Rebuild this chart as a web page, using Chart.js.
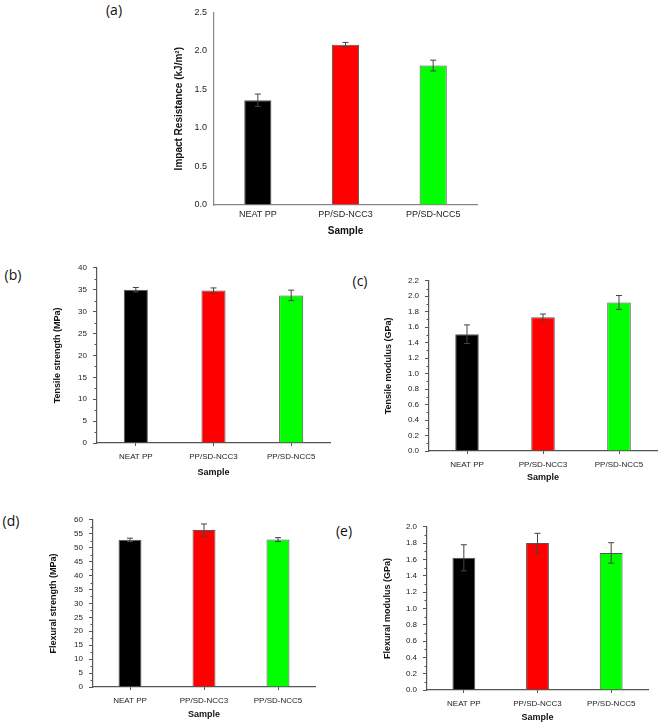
<!DOCTYPE html>
<html lang="en">
<head>
<meta charset="UTF-8">
<title>Mechanical properties</title>
<script src="https://cdn.jsdelivr.net/npm/chart.js@4.4.1/dist/chart.umd.min.js"></script>
<style>
  body{ margin:0; background:#fff; width:661px; height:724px; position:relative; overflow:hidden; }
  canvas{ position:absolute; }
  .lbl{ position:absolute; font-family:'Open Sans', sans-serif; font-size:14px; color:#111; line-height:1; transform:translate(-50%,-50%); }
</style>
</head>
<body>
<div class="lbl" style="left:114px; top:10px;">(a)</div>
<div class="lbl" style="left:13px; top:275px;">(b)</div>
<div class="lbl" style="left:360px; top:281px;">(c)</div>
<div class="lbl" style="left:11px; top:521px;">(d)</div>
<div class="lbl" style="left:344px; top:531px;">(e)</div>

<canvas id="chA"></canvas>
<canvas id="chB"></canvas>
<canvas id="chC"></canvas>
<canvas id="chD"></canvas>
<canvas id="chE"></canvas>

<script>
// data
const samples = ["NEAT PP", "PP/SD-NCC3", "PP/SD-NCC5"];
const barColors = ["#000000", "#ff0000", "#00ff00"];

const impact = [1.36, 2.08, 1.81];
const impactErr = [0.08, 0.03, 0.07];

const tensileStrength = [35.0, 34.8, 33.7];
const tensileStrengthErr = [0.5, 0.6, 1.2];

const tensileModulus = [1.51, 1.73, 1.92];
const tensileModulusErr = [0.12, 0.04, 0.09];

const flexStrength = [52.8, 56.3, 52.9];
const flexStrengthErr = [0.6, 2.2, 0.7];

const flexModulus = [1.62, 1.80, 1.68];
const flexModulusErr = [0.16, 0.12, 0.125];

Chart.defaults.font.family = "'Liberation Sans', Arial, sans-serif";
Chart.defaults.color = "#222";

// error bars drawn through the y scale
const errorBars = {
  id: 'errorBars',
  afterDatasetsDraw(chart) {
    const ctx = chart.ctx;
    const y = chart.scales.y;
    chart.data.datasets.forEach((ds, di) => {
      const meta = chart.getDatasetMeta(di);
      meta.data.forEach((bar, i) => {
        const v = ds.data[i], e = ds.errors[i];
        const top = y.getPixelForValue(v + e);
        const bot = y.getPixelForValue(v - e);
        ctx.save();
        ctx.strokeStyle = '#444';
        ctx.lineWidth = 1;
        ctx.beginPath();
        ctx.moveTo(bar.x, top); ctx.lineTo(bar.x, bot);
        ctx.moveTo(bar.x - 3, top); ctx.lineTo(bar.x + 3, top);
        ctx.moveTo(bar.x - 3, bot); ctx.lineTo(bar.x + 3, bot);
        ctx.stroke();
        ctx.restore();
      });
    });
  }
};

// small ticks halfway between the major y ticks
const minorTicks = {
  id: 'minorTicks',
  afterDraw(chart, args, opts) {
    if (!opts.show) return;
    const y = chart.scales.y;
    const ctx = chart.ctx;
    const step = y.options.ticks.stepSize;
    ctx.save();
    ctx.strokeStyle = opts.color;
    ctx.lineWidth = 1;
    ctx.beginPath();
    for (let v = step / 2; v < y.max; v += step) {
      const py = Math.round(y.getPixelForValue(v)) + 0.5;
      ctx.moveTo(y.right, py); ctx.lineTo(y.right - 2.5, py);
    }
    ctx.stroke();
    ctx.restore();
  }
};

function makePanel(id, p) {
  const lh = p.titleSize * 1.2;
  const left = Math.round(p.yTitleX - lh / 2);
  const padTop = Math.min(8, p.T);
  const padRight = 4;
  const yW = p.L - left;
  const xH = Math.round(p.xTitleY - p.B + lh / 2);
  const cv = document.getElementById(id);
  cv.width = yW + (p.R - p.L) + padRight;
  cv.height = padTop + (p.B - p.T) + xH;
  cv.style.left = left + 'px';
  cv.style.top = (p.T - padTop) + 'px';

  new Chart(cv, {
    type: 'bar',
    data: {
      labels: samples,
      datasets: [{
        data: p.values,
        errors: p.errors,
        backgroundColor: barColors,
        borderColor: '#555',
        borderWidth: 1,
        barPercentage: 0.31,
        categoryPercentage: 1
      }]
    },
    options: {
      responsive: false,
      animation: false,
      layout: { padding: { top: padTop, right: padRight, left: 0, bottom: 0 } },
      plugins: {
        legend: { display: false },
        tooltip: { enabled: false },
        minorTicks: { show: p.ticks, color: p.axisColor }
      },
      scales: {
        x: {
          afterFit(s) { s.height = xH; },
          border: { display: true, color: p.axisColor, width: 1.2 },
          grid: { drawOnChartArea: false, drawTicks: p.ticks, tickLength: 3, offset: false, color: p.axisColor },
          ticks: { padding: p.ticks ? 6 : 4, font: { size: p.tickSize }, color: '#222', maxRotation: 0 },
          title: { display: true, text: 'Sample', font: { size: p.titleSize, weight: 'bold' }, color: '#111', padding: 0 }
        },
        y: {
          min: 0, max: p.max,
          afterFit(s) { s.width = yW; },
          border: { display: true, color: p.axisColor, width: 1.2 },
          grid: { drawOnChartArea: false, drawTicks: p.ticks, tickLength: 4, color: p.axisColor },
          ticks: {
            stepSize: p.step, padding: p.ticks ? 6 : 7,
            font: { size: p.tickSize }, color: '#222',
            callback: v => v.toFixed(p.dec)
          },
          title: { display: true, text: p.yTitle, font: { size: p.titleSize, weight: 'bold' }, color: '#111', padding: 0 }
        }
      }
    },
    plugins: [errorBars, minorTicks]
  });
}

makePanel('chA', { L: 214, R: 477, T: 7, B: 205, yTitleX: 179, xTitleY: 231,
  max: 2.5, step: 0.5, dec: 1, tickSize: 9, titleSize: 10, ticks: false, axisColor: '#888',
  yTitle: 'Impact Resistance (kJ/m²)', values: impact, errors: impactErr });

makePanel('chB', { L: 97, R: 330, T: 265, B: 443, yTitleX: 57, xTitleY: 473,
  max: 40, step: 5, dec: 0, tickSize: 8, titleSize: 9, ticks: true, axisColor: '#555',
  yTitle: 'Tensile strength (MPa)', values: tensileStrength, errors: tensileStrengthErr });

makePanel('chC', { L: 429, R: 657, T: 278, B: 451, yTitleX: 388, xTitleY: 478,
  max: 2.2, step: 0.2, dec: 1, tickSize: 8, titleSize: 9, ticks: true, axisColor: '#555',
  yTitle: 'Tensile modulus (GPa)', values: tensileModulus, errors: tensileModulusErr });

makePanel('chD', { L: 93, R: 315, T: 517, B: 687, yTitleX: 53, xTitleY: 715,
  max: 60, step: 5, dec: 0, tickSize: 8, titleSize: 9, ticks: true, axisColor: '#555',
  yTitle: 'Flexural strength (MPa)', values: flexStrength, errors: flexStrengthErr });

makePanel('chE', { L: 427, R: 648, T: 524, B: 690, yTitleX: 387, xTitleY: 718,
  max: 2.0, step: 0.2, dec: 1, tickSize: 8, titleSize: 9, ticks: true, axisColor: '#555',
  yTitle: 'Flexural modulus (GPa)', values: flexModulus, errors: flexModulusErr });
</script>
</body>
</html>
